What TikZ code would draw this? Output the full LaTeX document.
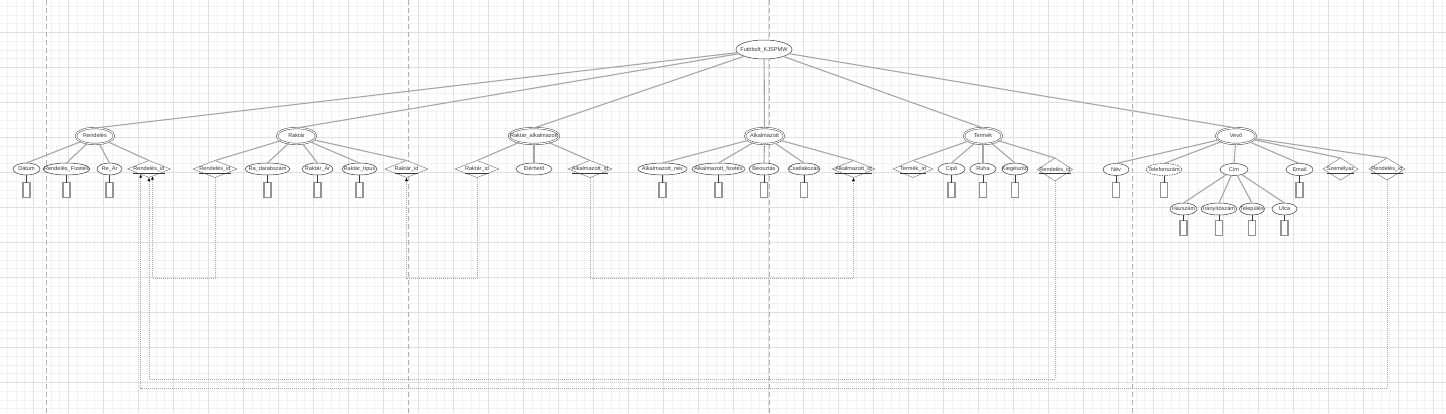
\documentclass[tikz,border=0pt]{standalone}
\usepackage{fontspec}
\setmainfont{Liberation Sans}
\usetikzlibrary{shapes.geometric,arrows.meta}
\definecolor{gminor}{HTML}{F2F2F2}
\definecolor{gmajor}{HTML}{E0E0E0}
\definecolor{edge}{HTML}{A6A6A6}
\definecolor{ink}{HTML}{3A3A3A}
\newcommand\lab[1]{\makebox[0pt]{\raisebox{-0.55ex}[0pt][0pt]{#1}}}
\newcommand\ulab[1]{\lab{\underline{#1}}}
\begin{document}
\begin{tikzpicture}[x=1pt,y=-1pt,
 every node/.style={inner sep=0pt,outer sep=0pt,font=\fontsize{5.6}{6}\selectfont,text=ink},
 attr/.style={ellipse,draw=ink,line width=0.5pt,fill=white,minimum height=12pt},
 ent/.style={ellipse,draw=ink,line width=0.45pt,double=white,double distance=1.1pt,fill=white,minimum height=16pt},
 key/.style={diamond,draw=gray,line width=0.5pt,fill=white,minimum height=17pt},
 valbox/.style={rectangle,draw=gray!85,line width=1.2pt,fill=white,minimum width=7pt,minimum height=15pt},
 link/.style={draw=edge,line width=1.1pt},
 stem/.style={draw=ink,line width=0.5pt},
 fk/.style={draw=gray!70,line width=0.8pt,dash pattern=on 1pt off 1pt,-{Latex[length=3.5pt,width=3pt,color=black]}},
 pagebreak/.style={draw=gray!60,line width=0.8pt,dash pattern=on 5pt off 3pt},
 gridminor/.style={draw=gminor,line width=0.6pt},
 gridmajor/.style={draw=gmajor,line width=0.7pt},
]
\useasboundingbox (0,0) rectangle (1446,413);
\fill[white] (0,0) rectangle (1446,413);
\begin{scope}
\clip (0,0) rectangle (1446,413);
\foreach \i in {0,...,165} \draw[gridminor] ({7.05+8.75*\i},0) -- ({7.05+8.75*\i},413);
\foreach \i in {0,...,47} \draw[gridminor] (0,{6.05+8.75*\i}) -- (1446,{6.05+8.75*\i});
\foreach \i in {0,...,42} \draw[gridmajor] ({-1.7+35*\i},0) -- ({-1.7+35*\i},413);
\foreach \i in {0,...,12} \draw[gridmajor] (0,{-2.7+35*\i}) -- (1446,{-2.7+35*\i});
\foreach \x in {46,408,769,1132} \draw[pagebreak] (\x,0) -- (\x,413);
\end{scope}

% root
\node[attr,minimum width=56pt,minimum height=19pt] (root) at (764,49.5) {\lab{Futóbolt\_KJSPMW}};

% entities
\node[ent,minimum width=38pt] (rend) at (95,136) {\lab{Rendelés}};
\node[ent,minimum width=39pt] (rak) at (296.5,136) {\lab{Raktár}};
\node[ent,minimum width=50pt] (rakalk) at (534,136) {\lab{Raktár\_alkalmazott}};
\node[ent,minimum width=39pt] (alk) at (764.5,136) {\lab{Alkalmazott}};
\node[ent,minimum width=38pt] (term) at (983,136) {\lab{Termék}};
\node[ent,minimum width=40pt] (vevo) at (1236,136) {\lab{Vevő}};

% Rendelés attributes
\node[attr,minimum width=27pt] (datum) at (26.5,169) {\lab{Dátum}};
\node[attr,minimum width=47pt] (rfiz) at (66.5,169) {\lab{Rendelés\_Fizetés}};
\node[attr,minimum width=25pt] (rear) at (109.5,169) {\lab{Re\_Ár}};
\node[key,minimum width=43pt] (rendrid) at (149,169) {\ulab{Rendelés\_id}};

% Raktár attributes
\node[key,minimum width=44pt] (rakrendid) at (215,169) {\ulab{Rendelés\_id}};
\node[attr,minimum width=45pt] (radb) at (267.5,169) {\lab{Ra\_darabszám}};
\node[attr,minimum width=31pt] (rakar) at (317.5,169) {\lab{Raktár\_Ár}};
\node[attr,minimum width=35pt] (raktip) at (359.5,169) {\lab{Raktár\_típus}};
\node[key,minimum width=43pt] (rakrid) at (406.5,169) {\ulab{Raktár\_id}};

% Raktár_alkalmazott attributes
\node[key,minimum width=44pt] (rarid) at (477,169) {\ulab{Raktár\_id}};
\node[attr,minimum width=36pt] (elerh) at (534,169) {\lab{Elérhető}};
\node[key,minimum width=44pt] (raaid) at (590,169) {\ulab{Alkalmazott\_id}};

% Alkalmazott attributes
\node[attr,minimum width=49pt] (anev) at (662.5,169) {\lab{Alkalmazott\_név}};
\node[attr,minimum width=53pt] (afiz) at (718.5,169) {\lab{Alkalmazott\_fizetés}};
\node[attr,minimum width=30pt] (beo) at (764,169) {\lab{Beosztás}};
\node[attr,minimum width=32pt] (csat) at (804,169) {\lab{Csatlakozás}};
\node[key,minimum width=43pt] (aid) at (853.5,169) {\ulab{Alkalmazott\_id}};

% Termék attributes
\node[key,minimum width=40pt] (tid) at (913,169) {\ulab{Termék\_id}};
\node[attr,minimum width=27pt] (cipo) at (951.5,169) {\lab{Cipő}};
\node[attr,minimum width=26pt] (ruha) at (983,169) {\lab{Ruha}};
\node[attr,minimum width=26pt] (kieg) at (1015,169) {\lab{Kiegészítő}};
\node[key,minimum width=35pt,minimum height=23pt] (trid) at (1055,169.5) {\ulab{Rendelés\_id}};

% Vevő attributes
\node[attr,minimum width=26pt] (nev) at (1116,169.5) {\lab{Név}};
\node[attr,dash pattern=on 1.5pt off 1pt,minimum width=36pt] (tel) at (1164,169.5) {\lab{Telefonszám}};
\node[attr,minimum width=28pt] (cim) at (1234,169.5) {\lab{Cím}};
\node[attr,minimum width=27pt] (email) at (1299.5,169.5) {\lab{Email}};
\node[key,minimum width=35pt,minimum height=22pt] (szem) at (1340.5,169) {\ulab{Személyaz}};
\node[key,minimum width=36pt,minimum height=22pt] (vrid) at (1387,169) {\ulab{Rendelés\_id}};

% Cím parts
\node[attr,minimum width=27pt] (hsz) at (1183.5,209) {\lab{Házszám}};
\node[attr,minimum width=36pt] (irsz) at (1219,209) {\lab{Irányítószám}};
\node[attr,minimum width=25pt] (telep) at (1252,209) {\lab{Település}};
\node[attr,minimum width=25pt] (utca) at (1284.5,209) {\lab{Utca}};

% value boxes
\foreach \n in {datum,rfiz,rear,radb,rakar,raktip,anev,afiz,beo,csat,cipo,ruha,kieg,nev,tel,email}{
  \node[valbox] (\n-v) at (\n.center |- 0,190) {};
  \draw[stem] (\n) -- (\n-v);
}
\foreach \n in {hsz,irsz,telep,utca}{
  \node[valbox] (\n-v) at (\n.center |- 0,228) {};
  \draw[stem] (\n) -- (\n-v);
}

% root to entities
\foreach \e in {rend,rak,rakalk,alk,term,vevo} \draw[link] (root) -- (\e.north);

% entity to attributes
\foreach \c in {datum,rfiz,rear,rendrid} \draw[link] (rend) -- (\c.north);
\foreach \c in {rakrendid,radb,rakar,raktip,rakrid} \draw[link] (rak) -- (\c.north);
\foreach \c in {rarid,elerh,raaid} \draw[link] (rakalk) -- (\c.north);
\foreach \c in {anev,afiz,beo,csat,aid} \draw[link] (alk) -- (\c.north);
\foreach \c in {tid,cipo,ruha,kieg,trid} \draw[link] (term) -- (\c.north);
\foreach \c in {nev,tel,cim,email,szem,vrid} \draw[link] (vevo) -- (\c.north);
\foreach \c in {hsz,irsz,telep,utca} \draw[link] (cim) -- (\c.north);

% foreign key references
\draw[fk] (rakrendid.south) -- ++(0,100.5) -| (rendrid.296);
\draw[fk] (rarid.south) -- ++(0,100.5) -| (rakrid.south);
\draw[fk] (raaid.south) -- ++(0,100.5) -| (aid.south);
\draw[fk] (trid.south) -- (trid.south |- 0,379) -| (rendrid.south);
\draw[fk] (vrid.south) -- (vrid.south |- 0,388) -| (rendrid.212);
\end{tikzpicture}
\end{document}
